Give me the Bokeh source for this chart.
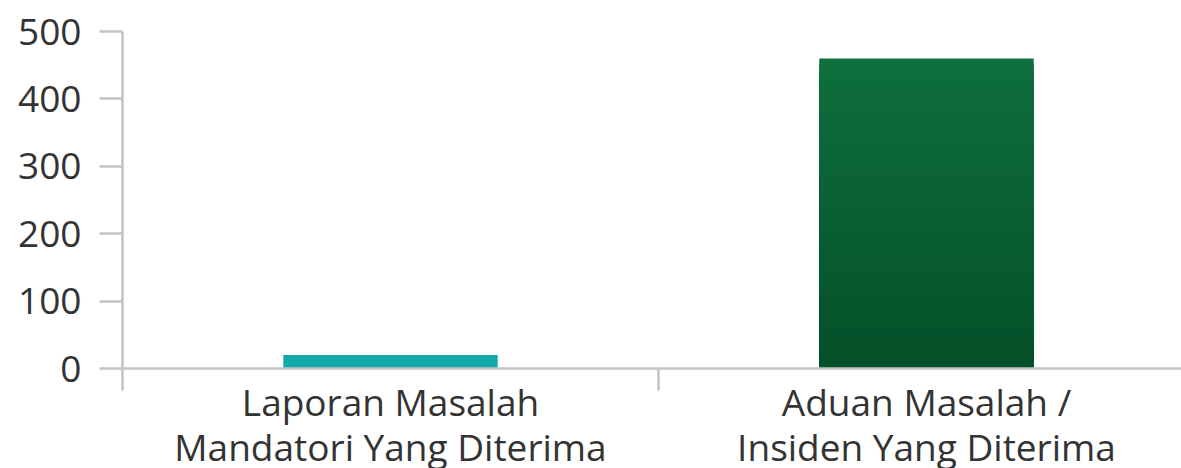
import numpy as np
from bokeh.plotting import figure
from bokeh.models import Range1d, FixedTicker
from bokeh.core.properties import value
from bokeh.embed import file_html
from bokeh.resources import INLINE

# Data
categories = [["Laporan Masalah", "Mandatori Yang Diterima"],
              ["Aduan Masalah /", "Insiden Yang Diterima"]]
values = [20, 460]
y_ticks = [0, 100, 200, 300, 400, 500]
Y_MAX = 500

AXIS_GREY = "#c3c3c7"
TEXT = "#333333"
TEAL = "#13a8a9"
GREEN_TOP = np.array([0x0f, 0x6f, 0x3d])
GREEN_BOTTOM = np.array([0x04, 0x4f, 0x29])

# page geometry (pixels)
WIDTH, HEIGHT = 1181, 468
AXIS_X, ZERO_Y, TOP_Y = 122, 368, 31
CAT_W = 536

xs = [i + 0.5 for i in range(len(categories))]
py = (ZERO_Y - TOP_Y) / Y_MAX          # pixels per value unit

# the frame fills the whole page; axes are pinned at x=0 / y=0
x_range = Range1d(-AXIS_X / CAT_W, (WIDTH - AXIS_X) / CAT_W)
y_range = Range1d(-(HEIGHT - ZERO_Y) / py, Y_MAX + TOP_Y / py)

p = figure(width=WIDTH, height=HEIGHT, output_backend="svg", toolbar_location=None,
           x_range=x_range, y_range=y_range, min_border=0)
p.outline_line_color = None
p.xgrid.visible = False
p.ygrid.visible = False
p.background_fill_color = "white"
p.border_fill_color = "white"

# first bar: flat teal
p.vbar(x=[xs[0]], top=[values[0]], width=0.4, fill_color=TEAL, line_color=None)

# second bar: vertical gradient built from overlapping layers
N = 60
v = values[1]
for i in range(N):
    frac = (N - i) / N
    c = GREEN_BOTTOM + (GREEN_TOP - GREEN_BOTTOM) * frac
    col = "#%02x%02x%02x" % tuple(int(round(t)) for t in c)
    p.vbar(x=[xs[1]], top=[v * frac], width=0.4, fill_color=col, line_color=None)

# y axis
yax = p.yaxis[0]
yax.fixed_location = 0
yax.bounds = (0, Y_MAX)
yax.ticker = FixedTicker(ticks=y_ticks)
yax.axis_line_color = AXIS_GREY
yax.axis_line_width = 2.5
yax.major_tick_line_color = AXIS_GREY
yax.major_tick_line_width = 2.5
yax.major_tick_out = 23
yax.major_tick_in = 0
yax.minor_tick_line_color = None
yax.major_label_standoff = 18
yax.major_label_text_font = "Open Sans"
yax.major_label_text_font_size = "37px"
yax.major_label_text_color = TEXT

# x axis: separators between categories only
xax = p.xaxis[0]
xax.fixed_location = 0
xax.bounds = (0, (WIDTH - AXIS_X) / CAT_W)
xax.ticker = FixedTicker(ticks=xs, minor_ticks=[0, 1, 2])
xax.major_label_overrides = {x: "" for x in xs}
xax.axis_line_color = AXIS_GREY
xax.axis_line_width = 2.5
xax.major_tick_line_color = None
xax.major_tick_out = 0
xax.major_tick_in = 0
xax.minor_tick_line_color = AXIS_GREY
xax.minor_tick_line_width = 2.5
xax.minor_tick_out = 22
xax.minor_tick_in = 0
xax.major_label_text_font_size = "1px"

# category names, two lines each, under the axis
line_drops = [33, 78]
tx, ty, tt = [], [], []
for x, lines in zip(xs, categories):
    for drop, line in zip(line_drops, lines):
        tx.append(x)
        ty.append(-drop / py)
        tt.append(line)
p.text(x=tx, y=ty, text=tt, text_align="center", text_baseline="alphabetic",
       text_font=value("Open Sans"), text_font_size="37px", text_color=TEXT)

open("out.html", "w").write(file_html(p, INLINE))
